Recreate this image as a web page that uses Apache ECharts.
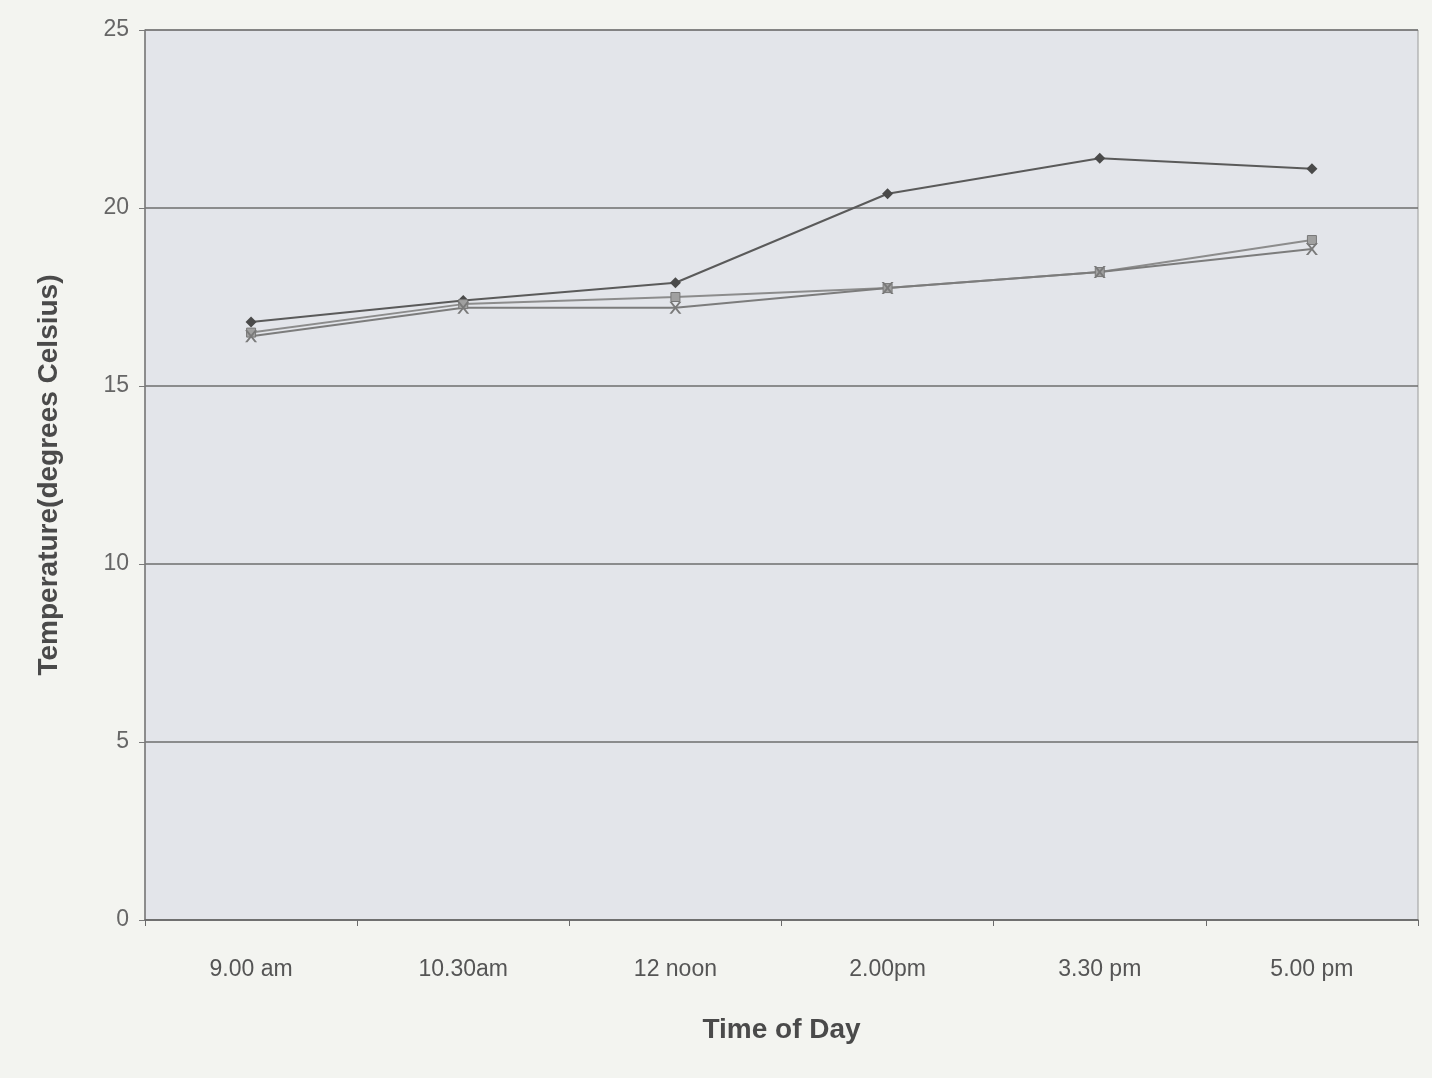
<!DOCTYPE html>
<html>
<head>
<meta charset="utf-8">
<script src="https://cdn.jsdelivr.net/npm/echarts@6/dist/echarts.min.js"></script>
<style>
html,body{margin:0;padding:0;background:#f3f4f0;}
#c{width:1432px;height:1078px;}
</style>
</head>
<body>
<div id="c"></div>
<script>
const categories = ['9.00 am', '10.30am', '12 noon', '2.00pm', '3.30 pm', '5.00 pm'];
const seriesA = [16.8, 17.4, 17.9, 20.4, 21.4, 21.1];
const seriesB = [16.5, 17.3, 17.5, 17.75, 18.2, 19.1];
const seriesC = [16.4, 17.2, 17.2, 17.75, 18.2, 18.85];
const yTicks = [0, 5, 10, 15, 20, 25];

const xPath = 'path://M0,0 L2,0 L5,3 L8,0 L10,0 L6,4 L10,8 L8,8 L5,5 L2,8 L0,8 L4,4 Z';

const chart = echarts.init(document.getElementById('c'));
const font = '"Liberation Sans", Arial, sans-serif';
chart.setOption({
  backgroundColor: '#f3f4f0',
  animation: false,
  grid: {
    left: 145, right: 14, top: 30, bottom: 158,
    show: true, backgroundColor: '#e3e5ea', borderColor: '#9a9a9a', borderWidth: 1
  },
  xAxis: {
    type: 'category',
    data: categories,
    boundaryGap: true,
    name: 'Time of Day',
    nameLocation: 'middle',
    nameGap: 96,
    nameTextStyle: { fontFamily: font, fontSize: 28, fontWeight: 'bold', color: '#4a4a4a' },
    axisLine: { lineStyle: { color: '#6a6a6a', width: 1.5 } },
    axisTick: { show: true, length: 6, lineStyle: { color: '#6a6a6a' } },
    axisLabel: { fontFamily: font, fontSize: 23, color: '#555', margin: 38 },
    splitLine: { show: false }
  },
  yAxis: {
    type: 'value',
    min: yTicks[0], max: yTicks[yTicks.length - 1], interval: 5,
    name: 'Temperature(degrees Celsius)',
    nameLocation: 'middle',
    nameGap: 82,
    nameTextStyle: { fontFamily: font, fontSize: 28, fontWeight: 'bold', color: '#4a4a4a' },
    axisLine: { show: true, lineStyle: { color: '#7a7a7a', width: 1.5 } },
    axisTick: { show: true, length: 6, lineStyle: { color: '#7a7a7a' } },
    axisLabel: { fontFamily: font, fontSize: 23, color: '#666', margin: 16 },
    splitLine: { show: true, lineStyle: { color: '#6e6e6e', width: 1.5 } }
  },
  series: [
    {
      name: 'A', type: 'line', data: seriesA,
      symbol: 'diamond', symbolSize: 11,
      lineStyle: { color: '#5a5a5a', width: 2 },
      itemStyle: { color: '#4a4a4a' }
    },
    {
      name: 'B', type: 'line', data: seriesB,
      symbol: 'rect', symbolSize: 9,
      lineStyle: { color: '#8c8c8c', width: 2 },
      itemStyle: { color: '#a0a0a0', borderColor: '#777', borderWidth: 1 }
    },
    {
      name: 'C', type: 'line', data: seriesC,
      symbol: xPath, symbolSize: 12,
      lineStyle: { color: '#7c7c7c', width: 2 },
      itemStyle: { color: '#7a7a7a' }
    }
  ]
});
</script>
</body>
</html>
